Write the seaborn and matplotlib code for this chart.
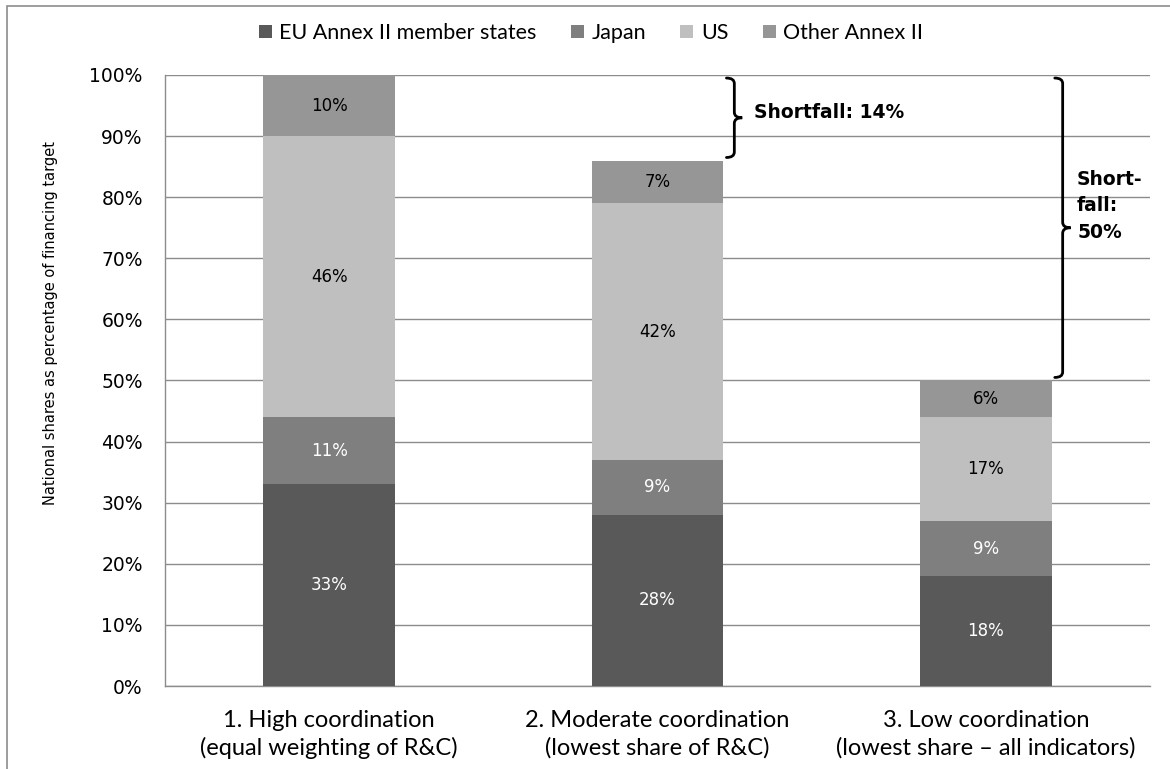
import matplotlib
matplotlib.use("Agg")
import matplotlib.pyplot as plt
from matplotlib.patches import Patch, Rectangle, PathPatch
from matplotlib.path import Path
from matplotlib.ticker import MultipleLocator, FixedLocator, PercentFormatter
import numpy as np
import seaborn as sns

# Scenario categories (x axis)
categories = [
    "1. High coordination\n(equal weighting of R&C)",
    "2. Moderate coordination\n(lowest share of R&C)",
    "3. Low coordination\n(lowest share \u2013 all indicators)",
]

# Stacked series, percent of financing target
series_names = ["EU Annex II member states", "Japan", "US", "Other Annex II"]
eu_share = [33, 28, 18]
japan_share = [11, 9, 9]
us_share = [46, 42, 17]
other_share = [10, 7, 6]

series_values = [eu_share, japan_share, us_share, other_share]
series_colors = ["#595959", "#7f7f7f", "#bfbfbf", "#969696"]
label_colors = ["white", "white", "black", "black"]

target = 100

sns.set_theme(style="white")
plt.rcParams["font.family"] = ["DejaVu Sans"]
plt.rcParams["text.color"] = "black"
plt.rcParams["axes.labelcolor"] = "black"
narrow = ["Lato", "DejaVu Sans"]

fig = plt.figure(figsize=(11.7, 7.69), dpi=100)
ax = fig.add_axes([165 / 1170, 1 - 686 / 769, (1150 - 165) / 1170, (686 - 75) / 769])

# cumulative tops of each stacked layer
values = np.array(series_values, dtype=float)
tops = np.cumsum(values, axis=0)
bottoms = tops - values

# draw from the tallest layer down so each segment overlays the one above
for i in reversed(range(len(series_names))):
    sns.barplot(x=categories, y=tops[i], color=series_colors[i], width=0.4,
                saturation=1, errorbar=None, linewidth=0, ax=ax, zorder=3)

# value labels in the middle of each segment
for i in range(len(series_names)):
    for j in range(len(categories)):
        ax.text(j, bottoms[i, j] + values[i, j] / 2, f"{int(values[i, j])}%",
                ha="center", va="center", fontsize=12, color=label_colors[i], zorder=5)

ax.set_xlim(-0.5, 2.5)
ax.set_ylim(0, 100)
ax.yaxis.set_major_locator(MultipleLocator(10))
ax.yaxis.set_major_formatter(PercentFormatter(decimals=0))
ax.grid(axis="y", color="#8c8c8c", linewidth=1, zorder=0)
ax.grid(axis="x", visible=False)

for side in ["top", "right"]:
    ax.spines[side].set_visible(False)
for side in ["left", "bottom"]:
    ax.spines[side].set_color("#8c8c8c")
    ax.spines[side].set_linewidth(1)

ax.xaxis.set_minor_locator(FixedLocator([-0.5, 0.5, 1.5, 2.5]))
ax.tick_params(axis="x", which="major", length=0, pad=17, labelsize=17,
               labelcolor="black")
ax.tick_params(axis="x", which="minor", length=6, direction="out", color="#8c8c8c", width=1)
ax.tick_params(axis="y", which="major", length=6, direction="out", color="#8c8c8c",
               width=1, pad=10, labelsize=13.5, labelcolor="black")
for lbl in ax.get_xticklabels():
    lbl.set_family(narrow)
    lbl.set_linespacing(1.35)

ax.set_xlabel("")
ax.set_ylabel("National shares as percentage of financing target", fontsize=10.5)
ax.yaxis.set_label_coords(-0.109, 0.594)


def right_brace(ax, x, y_lo, y_hi, dx=0.024, r=0.9):
    """Draw a right-pointing curly brace spanning y_lo..y_hi at data x."""
    xm = x + dx
    xt = x + 2 * dx
    mid = (y_lo + y_hi) / 2
    verts = [
        (x, y_hi), (xm, y_hi), (xm, y_hi - r),
        (xm, mid + r),
        (xm, mid), (xt, mid),
        (xm, mid), (xm, mid - r),
        (xm, y_lo + r),
        (xm, y_lo), (x, y_lo),
    ]
    codes = [Path.MOVETO, Path.CURVE3, Path.CURVE3, Path.LINETO,
             Path.CURVE3, Path.CURVE3, Path.CURVE3, Path.CURVE3,
             Path.LINETO, Path.CURVE3, Path.CURVE3]
    ax.add_patch(PathPatch(Path(verts, codes), facecolor="none", edgecolor="black",
                           linewidth=2, clip_on=False, zorder=6, capstyle="round"))
    return xt, mid


totals = tops[-1]
gap = 0.5
# shortfall of scenario 2
tip_x, tip_y = right_brace(ax, 1.21, totals[1] + gap, target - gap)
ax.text(tip_x + 0.035, tip_y + 0.8, f"Shortfall: {int(target - totals[1])}%", ha="left",
        va="center", fontsize=13.5, fontweight="bold", zorder=6)
# shortfall of scenario 3
tip_x, tip_y = right_brace(ax, 2.21, totals[2] + gap, target - gap)
ax.text(tip_x + 0.02, tip_y + 3.6, f"Short-\nfall:\n{int(target - totals[2])}%",
        ha="left", va="center", fontsize=13.5, fontweight="bold", linespacing=1.5,
        zorder=6)

# legend across the top
handles = [Patch(facecolor=c, edgecolor="none") for c in series_colors]
fig.legend(handles, series_names, loc="center", bbox_to_anchor=(0.505, 0.957), ncol=4,
           frameon=False, handlelength=0.6, handleheight=0.6, handletextpad=0.35,
           columnspacing=1.6, prop={"family": narrow, "size": 15.5})

# outer chart border
fig.patches.append(Rectangle((7 / 1170, -0.1), 2, 1.1 - 6.5 / 769, transform=fig.transFigure,
                             facecolor="none", edgecolor="#8c8c8c", linewidth=1.2))

fig.savefig("out.png", dpi=100)
